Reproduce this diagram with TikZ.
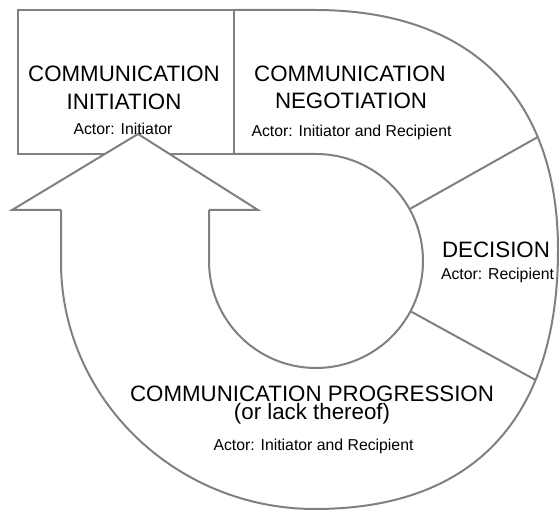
\documentclass[tikz,border=0pt]{standalone}
\usepackage{fontspec}
\setmainfont{Liberation Sans}
\usetikzlibrary{calc}
\definecolor{rimgray}{RGB}{128,128,128}
\tikzset{
  rim/.style={draw=rimgray,line width=2pt},
  title/.style={font=\fontsize{22.3}{24}\selectfont,anchor=base,inner sep=0pt},
  actor/.style={font=\fontsize{15.8}{18}\selectfont,anchor=base,inner sep=0pt}
}
\begin{document}
\begin{tikzpicture}[x=1pt,y=-1pt]
  \useasboundingbox (0,0) rectangle (559,510);
  % centre of the inner ring
  \coordinate (hub) at (316,261);
  % first stage box (its right side is the first cut)
  \draw[rim] (18,10) rectangle (234,154);
  % outer rim, from the top line round to the arrow shaft
  \draw[rim] (234,10) -- (315,10)
    .. controls (470,10) and (558,96) .. (558,250) coordinate[pos=0.72] (rimUp)
    .. controls (558,418) and (474,509) .. (315,509) coordinate[pos=0.3] (rimLow)
    .. controls (175,509) and (61,398) .. (61,262) -- (61,210);
  % inner ring
  \draw[rim] (234,154) -- (316,154) arc[start angle=-90,end angle=180,radius=107] -- (209,210);
  % cuts between the stages
  \draw[rim] ($(hub)+(-29:107)$) -- (rimUp);
  \draw[rim] ($(hub)+(28:107)$) -- (rimLow);
  % arrow head
  \filldraw[rim,fill=white] (61,210) -- (12,210) -- (138,134) -- (258,210) -- (209,210);
  % stage labels
  \node[title] (initTop) at (124,82) {COMMUNICATION};
  \node[title] (initBot) at (124,110) {INITIATION};
  \node[actor] (initActor) at (123,135) {Actor: Initiator};
  \node[title] (negoTop) at (350,82) {COMMUNICATION};
  \node[title] (negoBot) at (351,109) {NEGOTIATION};
  \node[actor] (negoActor) at (351.5,137) {Actor: Initiator and Recipient};
  \node[title] (decTitle) at (496,258) {DECISION};
  \node[actor] (decActor) at (497.5,280) {Actor: Recipient};
  \node[title,align=center,font=\fontsize{22.3}{17.8}\selectfont,anchor=north]
    (progTitle) at (312,385.5) {COMMUNICATION PROGRESSION\\(or lack thereof)};
  \node[actor] (progActor) at (313.5,450) {Actor: Initiator and Recipient};
\end{tikzpicture}
\end{document}
